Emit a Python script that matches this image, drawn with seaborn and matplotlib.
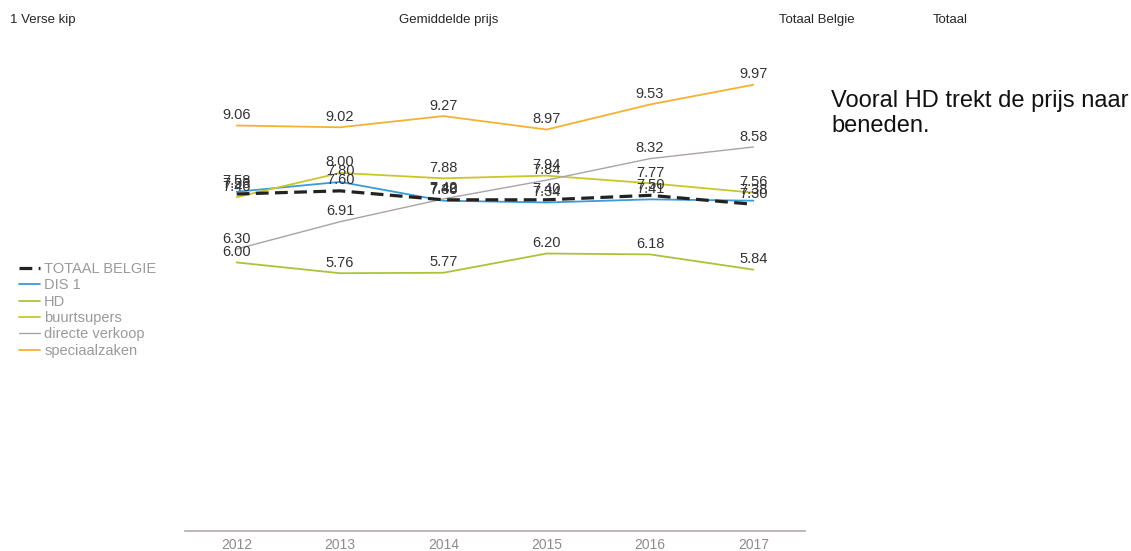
import pandas as pd
import matplotlib.pyplot as plt
import seaborn as sns

years = ["2012", "2013", "2014", "2015", "2016", "2017"]
series_names = ["TOTAAL BELGIE", "DIS 1", "HD", "buurtsupers", "directe verkoop", "speciaalzaken"]

totaal_belgie = [7.53, 7.60, 7.40, 7.40, 7.50, 7.30]
dis_1 = [7.58, 7.80, 7.38, 7.34, 7.41, 7.38]
hd = [6.00, 5.76, 5.77, 6.20, 6.18, 5.84]
buurtsupers = [7.46, 8.00, 7.88, 7.94, 7.77, 7.56]
directe_verkoop = [6.30, 6.91, 7.42, 7.84, 8.32, 8.58]
speciaalzaken = [9.06, 9.02, 9.27, 8.97, 9.53, 9.97]

colors = ["#222222", "#3d9ad8", "#a9c43a", "#c9c62a", "#aaa3a3", "#f4b234"]
widths = [2.3, 1.3, 1.3, 1.3, 1.0, 1.3]

all_values = [totaal_belgie, dis_1, hd, buurtsupers, directe_verkoop, speciaalzaken]
rows = []
for name, vals in zip(series_names, all_values):
    for y, v in zip(years, vals):
        rows.append({"Jaar": y, "Prijs": v, "Reeks": name})
data = pd.DataFrame(rows)

sns.set_style("white")
plt.rcParams["font.family"] = ["Liberation Sans", "DejaVu Sans"]

fig = plt.figure(figsize=(11.31, 5.51), dpi=100)
ax = fig.add_axes([0.1636, 0.0363, 0.5482, 0.8935])

# draw non-total series first, total on top
for name, color, lw in list(zip(series_names, colors, widths))[1:] + [(series_names[0], colors[0], widths[0])]:
    sub = data[data["Reeks"] == name]
    ls = (0, (4, 2)) if name == "TOTAAL BELGIE" else "-"
    sns.lineplot(data=sub, x="Jaar", y="Prijs", ax=ax, color=color, linewidth=lw,
                 linestyle=ls, label=name, sort=False)
    for i, v in enumerate(sub["Prijs"]):
        ax.annotate(f"{v:.2f}", (i, v), xytext=(0, 2.5), textcoords="offset points",
                    ha="center", va="bottom", fontsize=10.5, color="#333333")

ax.set_xlim(-0.5, 5.5)
ax.set_ylim(0, 11)
ax.set_xlabel("")
ax.set_ylabel("")
ax.set_yticks([])
for side in ["top", "right", "left"]:
    ax.spines[side].set_visible(False)
ax.spines["bottom"].set_color("#b3abab")
ax.spines["bottom"].set_linewidth(1.2)
ax.tick_params(axis="x", length=0, labelsize=10, labelcolor="#8c8c8c", pad=5)

handles, labels = ax.get_legend_handles_labels()
order = [labels.index(n) for n in series_names]
leg = ax.legend([handles[i] for i in order], [labels[i] for i in order],
                loc="upper left", bbox_to_anchor=(0.012, 0.535), bbox_transform=fig.transFigure,
                frameon=False, fontsize=10.5, handlelength=1.4, handletextpad=0.3,
                labelspacing=0.16, borderaxespad=0)
for t in leg.get_texts():
    t.set_color("#9a9a9a")

fig.text(0.009, 0.964, "1 Verse kip", fontsize=9.5, va="center", ha="left")
fig.text(0.397, 0.964, "Gemiddelde prijs", fontsize=9.5, va="center", ha="center")
fig.text(0.689, 0.964, "Totaal Belgie", fontsize=9.5, va="center", ha="left")
fig.text(0.825, 0.964, "Totaal", fontsize=9.5, va="center", ha="left")
fig.text(0.735, 0.837, "Vooral HD trekt de prijs naar\nbeneden.", fontsize=17,
         va="top", ha="left", color="#111111", linespacing=1.2)

fig.savefig("out.png", dpi=100)
